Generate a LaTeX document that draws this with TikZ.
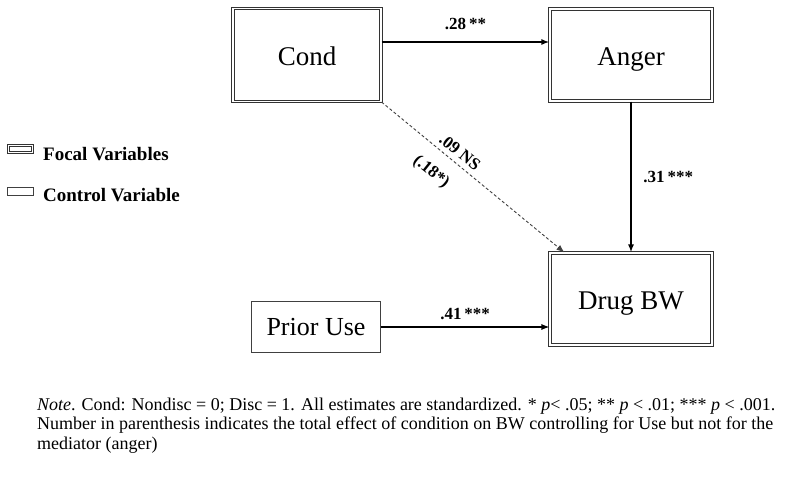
\documentclass[tikz,border=0pt]{standalone}
\usepackage{fontspec}
\setmainfont{Liberation Serif}
\usetikzlibrary{arrows.meta}

\begin{document}
\begin{tikzpicture}[x=1pt,y=-1pt]

% Style for boxes
\tikzstyle{focal}=[draw=black!80,double,line width=1.1pt,double distance=1.4pt,inner sep=0pt,text height=24pt,text depth=3pt,font=\fontsize{27}{30}\selectfont]
\tikzstyle{control}=[draw=black!75,line width=0.8pt,inner sep=0pt,text height=20pt,text depth=4pt,font=\fontsize{26}{30}\selectfont]
% Style for legend and labels
\tikzstyle{keytext}=[anchor=base west,inner sep=0pt,font=\fontsize{19}{22}\selectfont\bfseries]
\tikzstyle{coef}=[font=\fontsize{17}{20}\selectfont\bfseries]
% Style for the paths
\tikzstyle{effect}=[-{Latex[length=8pt,width=6pt]}]
\useasboundingbox (0,0) rectangle (800,477);

% The Boxes
\node(cond)[focal,minimum width=148,minimum height=93] at (307,55){Cond};
\node(anger)[focal,minimum width=162,minimum height=92] at (631,55){Anger};
\node(drug)[focal,minimum width=162,minimum height=92] at (631,299){Drug BW};
\node(prior)[control,minimum width=129,minimum height=51] at (316,327){Prior Use};

% The Legend
\node(fkey)[draw=black!80,double,line width=0.9pt,double distance=1.2pt,inner sep=0pt,minimum width=24,minimum height=7] at (20.5,149){};
\node(ftext)[keytext] at (43,160){Focal Variables};
\node(ckey)[draw=black!75,line width=0.7pt,inner sep=0pt,minimum width=26,minimum height=8] at (20.5,191){};
\node(ctext)[keytext] at (43,201){Control Variable};

% The Paths
\draw[effect,line width=2.2pt]([yshift=13pt]cond.east)--([yshift=13pt]anger.west)
    node[coef,midway,above=8pt]{.28\,**};
\draw[effect,line width=2.2pt](anger.south)--(drug.north)
    node[coef,midway,right=8pt]{.31\,***};
\draw[effect,line width=1.1pt](prior.east)--(prior.east-|drug.west)
    node[coef,midway,above=3pt]{.41\,***};
\draw[effect,line width=0.9pt,black!75,dash pattern=on 3pt off 2.2pt](cond.south east)--([xshift=15pt]drug.north west);
\node(ns)[coef,rotate=-38.6] at (460,152){.09 NS};
\node(total)[coef,rotate=-38.6] at (431,172){(.18*)};

% The Note
\node(note)[anchor=base west,inner sep=0pt,align=left,font=\fontsize{18}{19.5}\selectfont] at (37,449){\textit{Note}. Cond: Nondisc = 0; Disc = 1. All estimates are standardized. * \textit{p}< .05; ** \textit{p} < .01; *** \textit{p} < .001.\\
Number in parenthesis indicates the total effect of condition on BW controlling for Use but not for the\\
mediator (anger)};
\end{tikzpicture}
\end{document}
